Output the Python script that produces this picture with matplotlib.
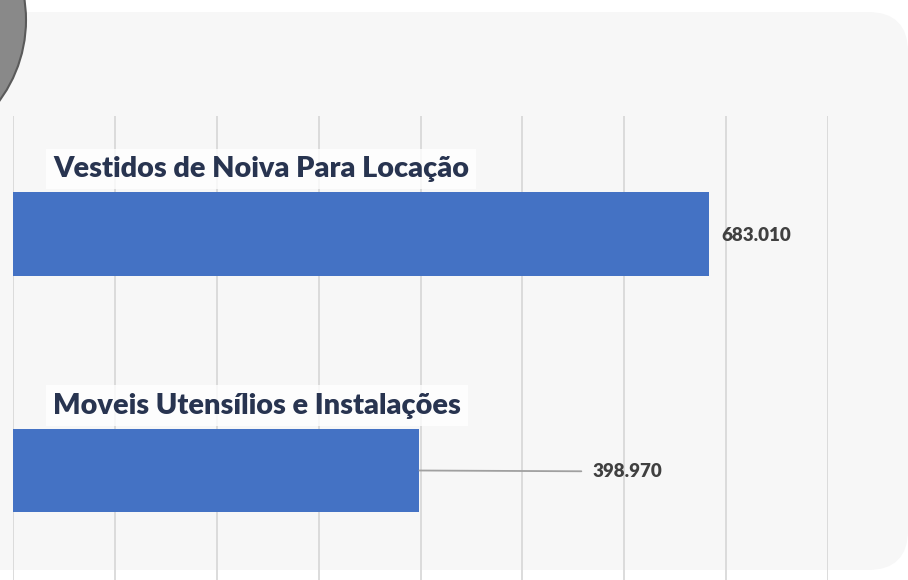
#!/usr/bin/env python3

import matplotlib
matplotlib.use("Agg")
import matplotlib.pyplot as plt
from matplotlib.patches import FancyBboxPatch, Circle

# data
categories = ["Vestidos de Noiva Para Locação", "Moveis Utensílios e Instalações"]
values = [683010, 398970]
value_labels = ["683.010", "398.970"]
gridline_ticks = [0, 100000, 200000, 300000, 400000, 500000, 600000, 700000, 800000]

# styles
bar_color = "#4472c4"
label_color = "#283450"
value_color = "#404040"
grid_color = "#d9d9d9"
label_offsets_px = [13, 173]   # distance of value label from bar end
leader_lines = [False, True]

W, H = 908, 580
fig = plt.figure(figsize=(W / 100, H / 100), dpi=100)
fig.patch.set_facecolor("white")

# background panel + decorative circle, drawn in pixel coordinates
bg = fig.add_axes([0, 0, 1, 1], zorder=0)
bg.set_xlim(0, W)
bg.set_ylim(H, 0)
bg.axis("off")
bg.add_patch(FancyBboxPatch((-60, 12), W + 60, 558,
                            boxstyle="round,pad=0,rounding_size=40",
                            facecolor="#f7f7f7", edgecolor="none"))
bg.add_patch(Circle((-110, 20), 136, facecolor="#898989",
                    edgecolor="#5a5a5a", linewidth=1.5))

# chart area: x from 13px to 828px, y from 116px to bottom
ax = fig.add_axes([13 / W, 0, (828 - 13) / W, (H - 116) / H], zorder=1)
ax.patch.set_alpha(0)
ax.set_xlim(0, 800000)
ax.set_ylim(1.463, -0.499)

ypos = list(range(len(categories)))
ax.barh(ypos, values, height=0.355, color=bar_color, zorder=2)

ax.set_xticks(gridline_ticks)
ax.grid(axis="x", color=grid_color, linewidth=1.3, zorder=0)
ax.set_axisbelow(True)
ax.tick_params(length=0, labelbottom=False, labelleft=False)
ax.set_yticks([])
for s in ax.spines.values():
    s.set_visible(False)

for i, (cat, v, lab) in enumerate(zip(categories, values, value_labels)):
    ax.annotate(cat, xy=(0, i), xytext=(40, 65), textcoords="offset pixels",
                ha="left", va="center", fontsize=20.8, fontweight="heavy",
                family="Lato", color=label_color, zorder=3,
                bbox=dict(boxstyle="square,pad=0.25", facecolor="white",
                          edgecolor="none", alpha=0.8))
    arrow = dict(arrowstyle="-", color="#a0a0a0", linewidth=1.3,
                 shrinkA=6, shrinkB=0) if leader_lines[i] else None
    ax.annotate(lab, xy=(v, i), xytext=(label_offsets_px[i], -1),
                textcoords="offset pixels", ha="left", va="center",
                fontsize=13.5, fontweight="heavy", family="Lato",
                color=value_color, arrowprops=arrow, zorder=3)

fig.savefig("out.png", dpi=100)
